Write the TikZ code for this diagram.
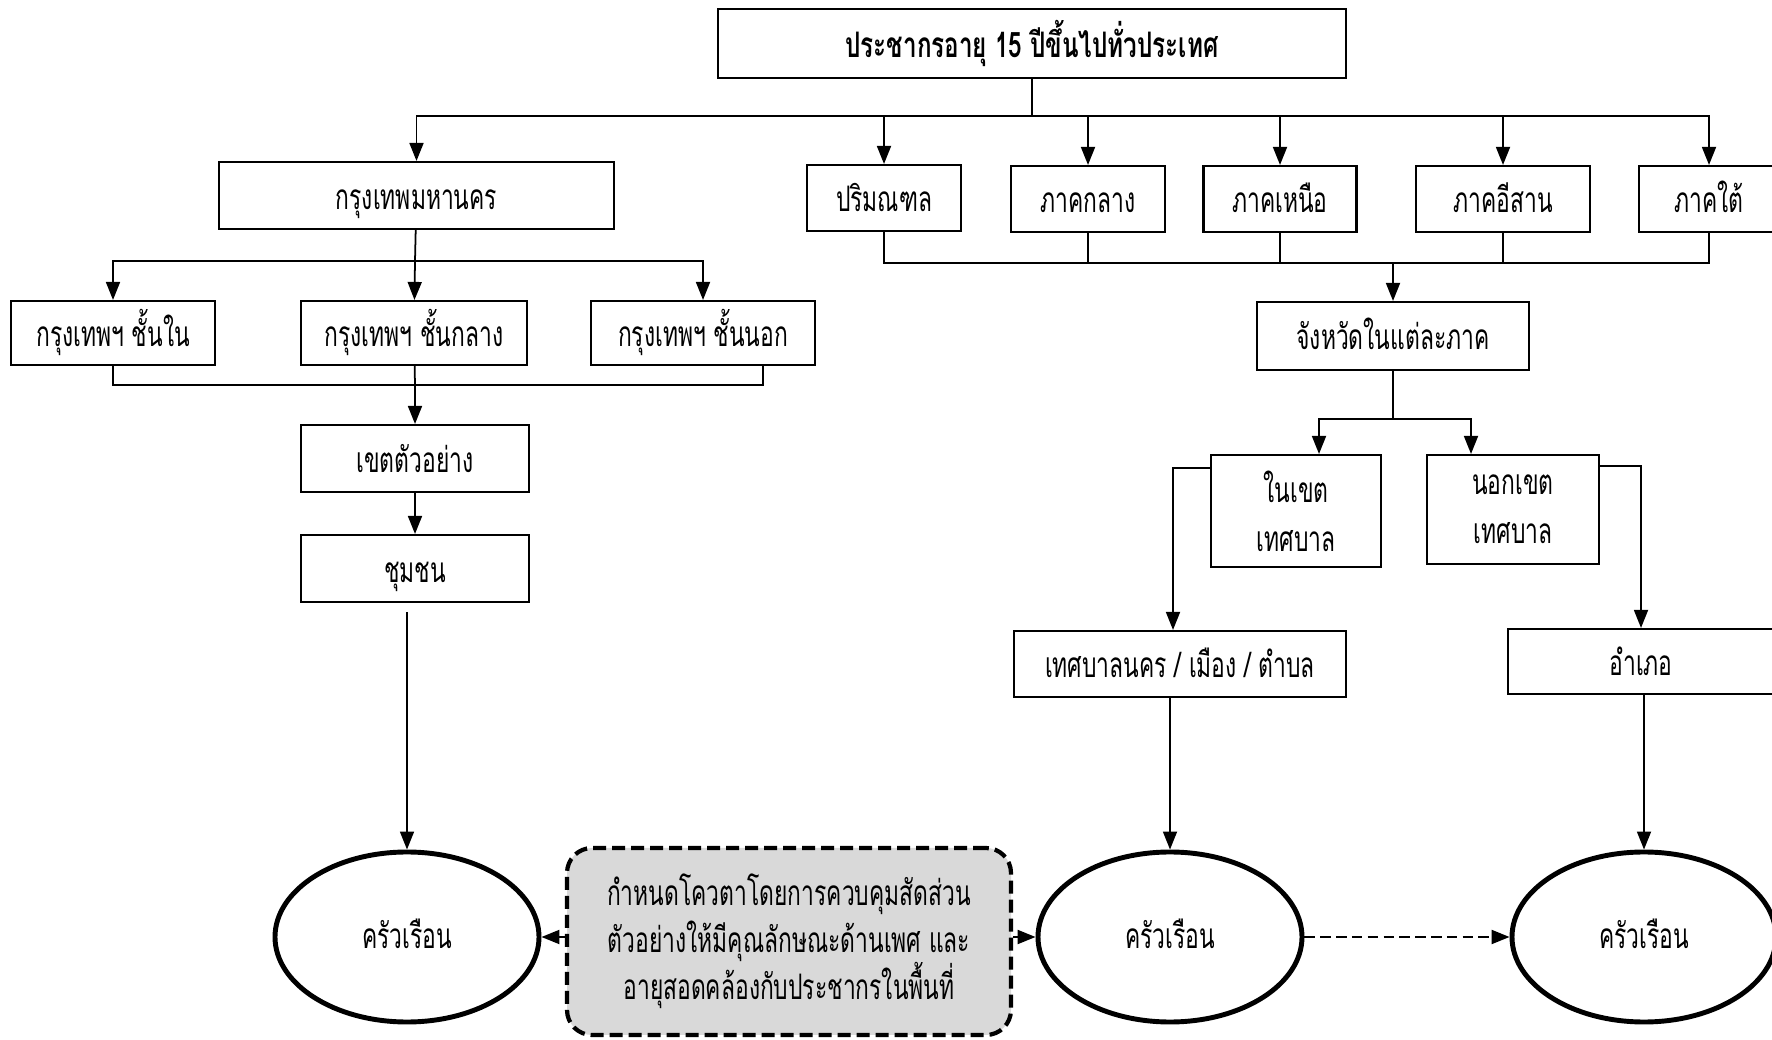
\documentclass[tikz,border=0pt]{standalone}
\usepackage{fontspec}
\newfontfamily\thaifont[Script=Thai,FakeStretch=0.65]{Loma}
\newfontfamily\thaititle[Script=Thai,FakeStretch=0.69]{Loma}
\usepackage{xcolor}
\usepackage{tikz}
\usetikzlibrary{shapes,arrows.meta}
\definecolor{quotagray}{HTML}{D9D9D9}
\tikzset{box/.style={draw,line width=0.6pt,minimum height=0.66cm,inner sep=0pt,text height=0.28cm,text depth=0pt,font=\thaifont\fontsize{10}{14}\selectfont,align=center},
ell/.style={ellipse,draw,line width=1.4pt,minimum width=2.64cm,minimum height=1.70cm,inner sep=0pt,text height=0.22cm,text depth=0pt,font=\thaifont\fontsize{10}{14}\selectfont},
quota/.style={draw,fill=quotagray,rounded corners=0.25cm,line width=1.2pt,dash pattern=on 0.13cm off 0.06cm,minimum width=4.44cm,minimum height=1.87cm,inner sep=0pt,align=center,font=\thaifont\fontsize{10}{13.4}\selectfont},
con/.style={line width=0.5pt},
dasharr/.style={->,line width=0.6pt,dash pattern=on 3pt off 1.5pt}}

\begin{document}
\begin{tikzpicture}[>={Triangle[length=0.18cm,width=0.14cm]},x=1cm,y=-1cm]
    \useasboundingbox (0,0) rectangle (17.72,10.40);
    \node[box,minimum width=6.28cm,minimum height=0.69cm,font=\thaititle\bfseries\fontsize{10}{14}\selectfont] (a)at (10.32,0.435) {ประชากรอายุ 15 ปีขึ้นไปทั่วประเทศ};
    \node[box,minimum width=3.95cm,minimum height=0.67cm] (b)at (4.165,1.955) {กรุงเทพมหานคร};
    \node[box,minimum width=1.54cm] (c)at (8.84,1.98) {ปริมณฑล};
    \node[box,minimum width=1.54cm] (d)at (10.88,1.99) {ภาคกลาง};
    \node[box,minimum width=1.53cm] (e)at (12.80,1.99) {ภาคเหนือ};
    \node[box,minimum width=1.74cm] (f)at (15.03,1.99) {ภาคอีสาน};
    \node[box,minimum width=1.40cm] (g)at (17.09,1.99) {ภาคใต้};
    \node[box,minimum width=2.72cm,minimum height=0.68cm] (h)at (13.93,3.36) {จังหวัดในแต่ละภาค};
    \node[box,minimum width=1.70cm,minimum height=1.12cm,text height={},text depth={}] (i)at (12.96,5.11) {ในเขต\\เทศบาล};
    \node[box,minimum width=1.72cm,minimum height=1.09cm,text height={},text depth={}] (j)at (15.13,5.095) {นอกเขต\\เทศบาล};
    \node[box,minimum width=3.32cm] (k)at (11.80,6.64) {เทศบาลนคร / เมือง / ตำบล};
    \node[box,minimum width=2.66cm,minimum height=0.65cm] (l)at (16.41,6.615) {อำเภอ};
    \node[box,minimum width=2.04cm,minimum height=0.64cm] (m)at (1.13,3.33) {กรุงเทพฯ ชั้นใน};
    \node[box,minimum width=2.26cm,minimum height=0.64cm] (n)at (4.14,3.33) {กรุงเทพฯ ชั้นกลาง};
    \node[box,minimum width=2.24cm,minimum height=0.64cm] (o)at (7.03,3.33) {กรุงเทพฯ ชั้นนอก};
    \node[box,minimum width=2.28cm,minimum height=0.67cm] (p)at (4.15,4.585) {เขตตัวอย่าง};
    \node[box,minimum width=2.28cm,minimum height=0.67cm] (q)at (4.15,5.685) {ชุมชน};
    \node[ell] (r)at (4.07,9.37) {ครัวเรือน};
    \node[ell] (s)at (11.70,9.37) {ครัวเรือน};
    \node[ell] (t)at (16.44,9.37) {ครัวเรือน};
    \node[quota] (u)at (7.89,9.415) {กำหนดโควตาโดยการควบคุมสัดส่วน\\ตัวอย่างให้มีคุณลักษณะด้านเพศ และ\\อายุสอดคล้องกับประชากรในพื้นที่};

    % top level
    \coordinate (bus1) at (10.32,1.16);
    \draw [con] (a) -- (bus1);
    \foreach \x in {b,c,d,e,f,g}
        \draw [con,->] (bus1) -| (\x);
    % regions to provinces
    \coordinate (bus2) at (13.93,2.63);
    \foreach \x in {c,d,e,f,g}
        \draw [con] (\x) |- (bus2);
    \draw [con,->] (bus2) -- (h);
    \coordinate (bus3) at (13.93,4.19);
    \draw [con] (h) -- (bus3);
    \draw [con,->] (bus3) -| ([xshift=0.23cm]i.north);
    \draw [con,->] (bus3) -| ([xshift=-0.42cm]j.north);
    \draw [con,->] ([yshift=-0.14cm]i.north west) -| ([xshift=-0.07cm]k.north);
    \draw [con,->] ([yshift=-0.12cm]j.north east) -| (l);
    \draw [con,->] (k.south -| s) -- (s);
    \draw [con,->] (l.south -| t) -- (t);
    % bangkok
    \coordinate (bus4) at (4.15,2.61);
    \draw [con] (b) -- (bus4);
    \draw [con,->] (bus4) -| (m);
    \draw [con,->] (bus4) -- (n);
    \draw [con,->] (bus4) -| (o);
    \coordinate (bus5) at (4.15,3.85);
    \draw [con] (m) |- (bus5);
    \draw [con] (n) -- (bus5);
    \draw [con] ([xshift=0.6cm]o.south) |- (bus5);
    \draw [con,->] (bus5) -- (p);
    \draw [con,->] (p) -- (q);
    \draw [con,->] ([yshift=-0.09cm]q.south -| r) -- (r);
    % quota
    \draw [dasharr] (u.west |- r) -- (r);
    \draw [dasharr] (u.east |- s) -- (s);
    \draw [dasharr] (s) -- (t);
\end{tikzpicture}
\end{document}
